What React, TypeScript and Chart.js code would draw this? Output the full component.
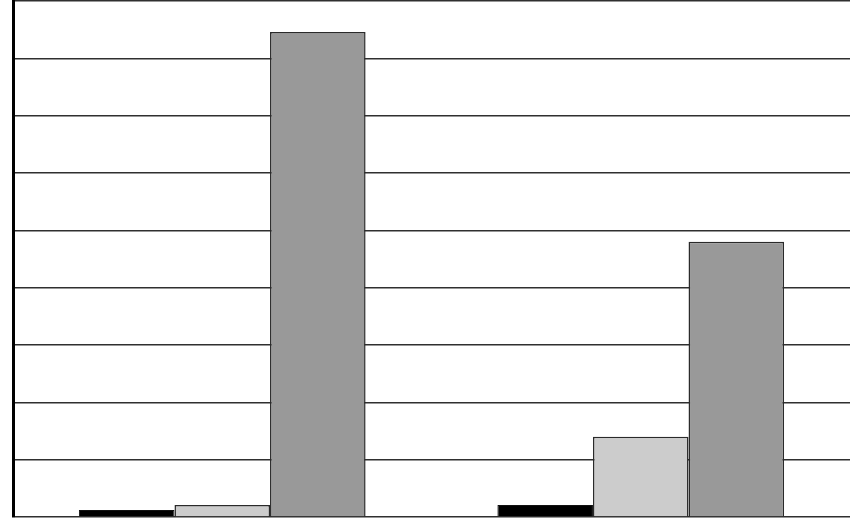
import { useEffect, useRef } from "react"
import { Chart, registerables } from "chart.js"

Chart.register(...registerables)

const categories = ["A", "B"]
const seriesBlack = [0.12, 0.21]
const seriesLight = [0.21, 1.4]
const seriesDark = [8.46, 4.8]
const yMax = 9
const yStep = 1

export default function App() {
  const canvasRef = useRef<HTMLCanvasElement>(null)
  const chartRef = useRef<Chart | null>(null)

  useEffect(() => {
    document.body.style.margin = "0"
    document.body.style.overflow = "hidden"
    if (!canvasRef.current) return
    const ctx = canvasRef.current.getContext("2d")
    if (!ctx) return
    chartRef.current = new Chart(ctx, {
      type: "bar",
      data: {
        labels: categories,
        datasets: [
          { label: "s1", data: seriesBlack, backgroundColor: "#000000", borderColor: "#111111", borderWidth: 1 },
          { label: "s2", data: seriesLight, backgroundColor: "#cccccc", borderColor: "#2a2a2a", borderWidth: 1.5 },
          { label: "s3", data: seriesDark, backgroundColor: "#999999", borderColor: "#2a2a2a", borderWidth: 1.5 },
        ],
      },
      options: {
        animation: false,
        responsive: false,
        maintainAspectRatio: false,
        layout: { padding: { left: 13, top: 1, bottom: 1, right: -4 } },
        plugins: { legend: { display: false }, tooltip: { enabled: false }, title: { display: false } },
        datasets: { bar: { barPercentage: 1, categoryPercentage: 0.685 } },
        scales: {
          x: { display: false },
          y: {
            min: 0,
            max: yMax,
            afterFit: (axis) => {
              axis.width = 0
            },
            ticks: { display: false, stepSize: yStep, padding: 0 },
            grid: { color: "#2f2f2f", lineWidth: 1.5, drawTicks: false, tickLength: 0 },
            border: { color: "#000000", width: 3 },
          },
        },
      },
    })
    return () => {
      if (chartRef.current) chartRef.current.destroy()
    }
  }, [])

  return (
    <div style={{ position: "absolute", left: 0, top: 0, width: 850, height: 518, overflow: "hidden", background: "#fff" }}>
      <canvas ref={canvasRef} width={850} height={518}></canvas>
    </div>
  )
}
